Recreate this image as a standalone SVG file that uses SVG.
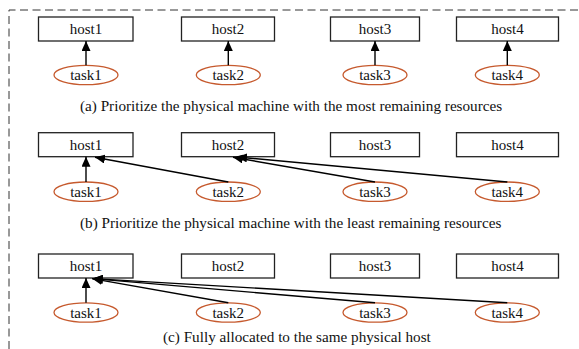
<svg xmlns="http://www.w3.org/2000/svg" width="579" height="349" viewBox="0 0 579 349">
<defs>
<style>
.frame{fill:none;stroke:#333;stroke-width:1;stroke-dasharray:8 4.5}
.host rect{fill:#fff;stroke:#222;stroke-width:1.3}
.task ellipse{fill:#fff;stroke:#c65a2e;stroke-width:1.3}
text{font-family:"Liberation Serif","Times New Roman",serif;fill:#111}
.lbl{font-size:15px;text-anchor:middle}
.cap{font-size:15.2px}
.edges line{stroke:#000;stroke-width:1.4;marker-end:url(#ah)}
</style>
<marker id="ah" markerUnits="userSpaceOnUse" markerWidth="11" markerHeight="9" refX="10" refY="4.5" orient="auto">
<path d="M0,0 L10,4.5 L0,9 z" fill="#000"/>
</marker>
</defs>
<rect width="579" height="349" fill="#fff"/>
<path class="frame" d="M9,349 V10 H579"/>

<!-- (a) -->
<g id="a_host1" class="host"><rect x="38.5" y="17" width="94.5" height="24"/><text class="lbl" x="86" y="34">host1</text></g>
<g id="a_host2" class="host"><rect x="181.5" y="17" width="93" height="24"/><text class="lbl" x="228" y="34">host2</text></g>
<g id="a_host3" class="host"><rect x="330.5" y="17" width="89" height="24"/><text class="lbl" x="375" y="34">host3</text></g>
<g id="a_host4" class="host"><rect x="456.5" y="17" width="102" height="24"/><text class="lbl" x="507.5" y="34">host4</text></g>
<g id="a_task1" class="task"><ellipse cx="86" cy="75" rx="32" ry="9.7"/><text class="lbl" x="86" y="80">task1</text></g>
<g id="a_task2" class="task"><ellipse cx="228.3" cy="75" rx="32" ry="9.7"/><text class="lbl" x="228.3" y="80">task2</text></g>
<g id="a_task3" class="task"><ellipse cx="375" cy="75" rx="32" ry="9.7"/><text class="lbl" x="375" y="80">task3</text></g>
<g id="a_task4" class="task"><ellipse cx="507.3" cy="75" rx="32" ry="9.7"/><text class="lbl" x="507.3" y="80">task4</text></g>
<text id="cap_a" class="cap" x="80" y="110.7">(a) Prioritize the physical machine with the most remaining resources</text>

<!-- (b) -->
<g id="b_host1" class="host"><rect x="38.5" y="132.7" width="94.5" height="24"/><text class="lbl" x="86" y="149.7">host1</text></g>
<g id="b_host2" class="host"><rect x="181.5" y="132.7" width="93" height="24"/><text class="lbl" x="228" y="149.7">host2</text></g>
<g id="b_host3" class="host"><rect x="330.5" y="132.7" width="89" height="24"/><text class="lbl" x="375" y="149.7">host3</text></g>
<g id="b_host4" class="host"><rect x="456.5" y="132.7" width="102" height="24"/><text class="lbl" x="507.5" y="149.7">host4</text></g>
<g id="b_task1" class="task"><ellipse cx="86" cy="191.7" rx="32" ry="9.7"/><text class="lbl" x="86" y="196.7">task1</text></g>
<g id="b_task2" class="task"><ellipse cx="228.3" cy="191.7" rx="32" ry="9.7"/><text class="lbl" x="228.3" y="196.7">task2</text></g>
<g id="b_task3" class="task"><ellipse cx="375" cy="191.7" rx="32" ry="9.7"/><text class="lbl" x="375" y="196.7">task3</text></g>
<g id="b_task4" class="task"><ellipse cx="507.3" cy="191.7" rx="32" ry="9.7"/><text class="lbl" x="507.3" y="196.7">task4</text></g>
<text id="cap_b" class="cap" x="80" y="228">(b) Prioritize the physical machine with the least remaining resources</text>

<!-- (c) -->
<g id="c_host1" class="host"><rect x="38.5" y="254" width="94.5" height="24"/><text class="lbl" x="86" y="271">host1</text></g>
<g id="c_host2" class="host"><rect x="181.5" y="254" width="93" height="24"/><text class="lbl" x="228" y="271">host2</text></g>
<g id="c_host3" class="host"><rect x="330.5" y="254" width="89" height="24"/><text class="lbl" x="375" y="271">host3</text></g>
<g id="c_host4" class="host"><rect x="456.5" y="254" width="102" height="24"/><text class="lbl" x="507.5" y="271">host4</text></g>
<g id="c_task1" class="task"><ellipse cx="86" cy="312.5" rx="32" ry="9.7"/><text class="lbl" x="86" y="317.5">task1</text></g>
<g id="c_task2" class="task"><ellipse cx="228.3" cy="312.5" rx="32" ry="9.7"/><text class="lbl" x="228.3" y="317.5">task2</text></g>
<g id="c_task3" class="task"><ellipse cx="375" cy="312.5" rx="32" ry="9.7"/><text class="lbl" x="375" y="317.5">task3</text></g>
<g id="c_task4" class="task"><ellipse cx="507.3" cy="312.5" rx="32" ry="9.7"/><text class="lbl" x="507.3" y="317.5">task4</text></g>
<text id="cap_c" class="cap" x="163" y="341.7">(c) Fully allocated to the same physical host</text>

<g id="connectors" class="edges">
<line x1="86" y1="65.3" x2="86" y2="41"/>
<line x1="228.3" y1="65.3" x2="228.3" y2="41"/>
<line x1="375" y1="65.3" x2="375" y2="41"/>
<line x1="507.3" y1="65.3" x2="507.3" y2="41"/>

<line x1="86" y1="182" x2="86" y2="156.7"/>
<line x1="228.3" y1="182" x2="95" y2="157.3"/>
<line x1="375" y1="182" x2="233" y2="157.3"/>
<line x1="507.3" y1="182" x2="237" y2="157"/>

<line x1="86" y1="302.8" x2="86" y2="278"/>
<line x1="228.3" y1="302.8" x2="92" y2="278.6"/>
<line x1="375" y1="302.8" x2="92.5" y2="278.6"/>
<line x1="507.3" y1="302.8" x2="93" y2="278.6"/>
</g>
</svg>
